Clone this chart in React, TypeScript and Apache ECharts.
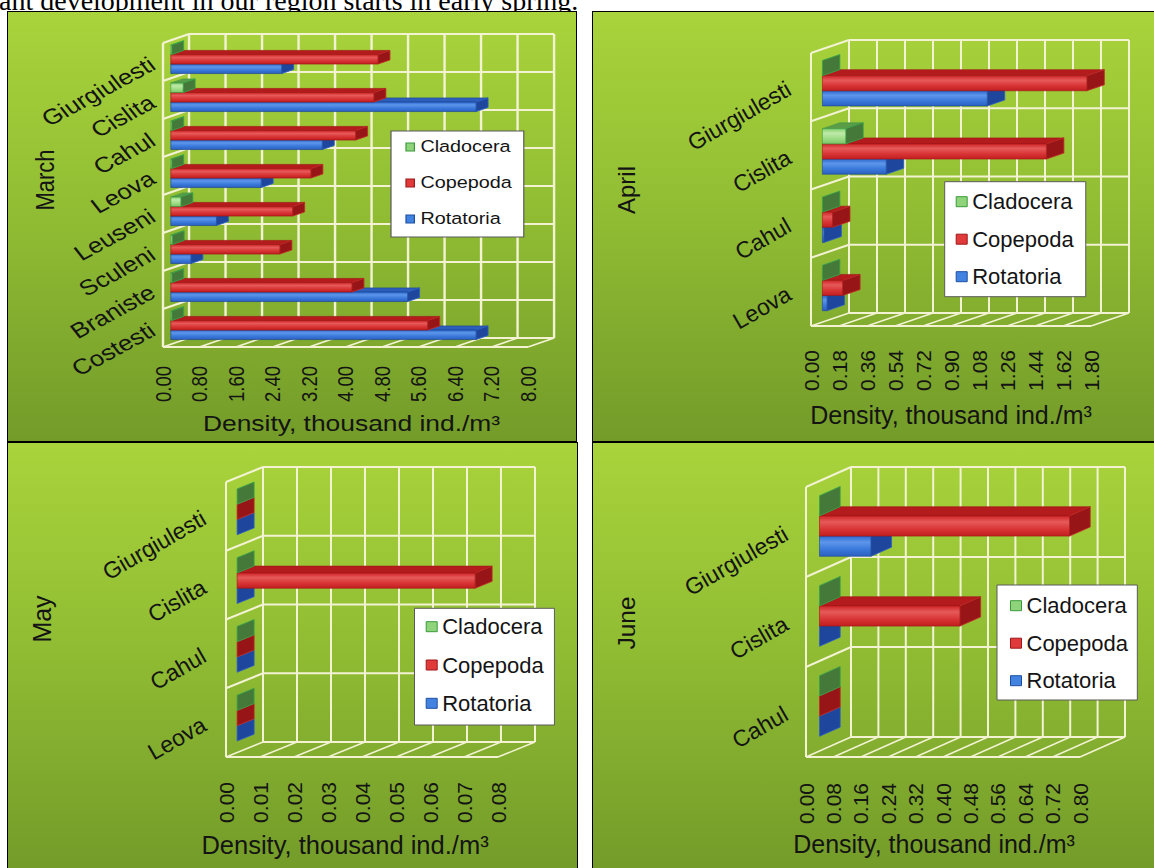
import React, { useEffect, useRef } from "react";
import * as echarts from "echarts";

// Sites run bottom-to-top, in the order of the category axis.
const marchSites = ["Costesti", "Braniste", "Sculeni", "Leuseni", "Leova", "Cahul", "Cislita", "Giurgiulesti"];
const marchRotatoria = [6.69, 5.19, 0.44, 1.0, 1.98, 3.32, 6.69, 2.43];
const marchCopepoda = [5.63, 3.97, 2.39, 2.67, 3.07, 4.05, 4.45, 4.54];
const marchCladocera = [0.02, 0.02, 0.03, 0.22, 0.02, 0.02, 0.27, 0.02];
const marchAxisMax = 8;
const marchAxisStep = 0.8;

const aprilSites = ["Leova", "Cahul", "Cislita", "Giurgiulesti"];
const aprilRotatoria = [0.03, 0.01, 0.41, 1.06];
const aprilCopepoda = [0.13, 0.065, 1.44, 1.7];
const aprilCladocera = [0, 0, 0.15, 0];
const aprilAxisMax = 1.8;
const aprilAxisStep = 0.18;

const maySites = ["Leova", "Cahul", "Cislita", "Giurgiulesti"];
const mayRotatoria = [0, 0, 0, 0];
const mayCopepoda = [0, 0, 0.07, 0];
const mayCladocera = [0, 0, 0, 0];
const mayAxisMax = 0.08;
const mayAxisStep = 0.01;

const juneSites = ["Cahul", "Cislita", "Giurgiulesti"];
const juneRotatoria = [0, 0, 0.15];
const juneCopepoda = [0, 0.41, 0.73];
const juneCladocera = [0, 0, 0];
const juneAxisMax = 0.8;
const juneAxisStep = 0.08;

const AXIS_TITLE = "Density, thousand ind./m³";
const FONT = '"Liberation Sans", Arial, sans-serif';
const INK = "#141414";
const FRAME_COLOR = "#f3f3d4";
const DEPTH_FRONT = 0.3; // bar front face, as a fraction of the wall depth
const DEPTH_BACK = 0.76; // bar back face

type Layout = {
  box: [number, number, number, number];
  stretch: number;
  grid: [number, number, number, number];
  depth: [number, number];
  gap: number; // empty space between clusters, in bar heights
  cat: { size: number; rotate: number; margin: number };
  tick: { size: number; margin: number };
  title: { size: number; gap: number; shift: number };
  month: { size: number; x: number; y: number };
  legend: {
    left: number;
    top: number;
    padding: number[];
    icon: [number, number];
    size: number;
    lineHeight: number;
    gap: number;
  };
};

const marchLayout: Layout = {
  box: [7, 11, 570, 431],
  stretch: 1.2,
  grid: [130, 32, 304.2, 304],
  depth: [21.7, -9],
  gap: 1.0,
  cat: { size: 21.5, rotate: 33, margin: 9 },
  tick: { size: 18.5, margin: 19 },
  title: { size: 22, gap: 65, shift: 5 },
  month: { size: 22, x: 31.7, y: 169 },
  legend: { left: 320, top: 120, padding: [6, 10, 8, 12], icon: [7, 8], size: 16.5, lineHeight: 20, gap: 16 },
};

const aprilLayout: Layout = {
  box: [592, 11, 566, 431],
  stretch: 1,
  grid: [219, 42, 280, 273],
  depth: [38, -13],
  gap: 1.5,
  cat: { size: 23, rotate: 30, margin: 22 },
  tick: { size: 21, margin: 24 },
  title: { size: 25, gap: 76, shift: 0 },
  month: { size: 24, x: 34, y: 179 },
  legend: { left: 352.7, top: 170.7, padding: [7, 12, 7, 11], icon: [11, 10], size: 22, lineHeight: 26, gap: 11.5 },
};

const mayLayout: Layout = {
  box: [7, 442, 571, 430],
  stretch: 1,
  grid: [219, 40, 272, 275],
  depth: [37, -15],
  gap: 1.5,
  cat: { size: 23, rotate: 30, margin: 22 },
  tick: { size: 21, margin: 25 },
  title: { size: 25.5, gap: 75, shift: -17 },
  month: { size: 25, x: 35, y: 177 },
  legend: { left: 407.5, top: 166.3, padding: [5.4, 10.7, 8.7, 11.2], icon: [11, 10], size: 22, lineHeight: 26, gap: 12.3 },
};

const juneLayout: Layout = {
  box: [592, 442, 566, 430],
  stretch: 1,
  grid: [214, 45, 274, 270],
  depth: [45, -20],
  gap: 1.45,
  cat: { size: 23, rotate: 30, margin: 20 },
  tick: { size: 21, margin: 26 },
  title: { size: 25, gap: 67, shift: -9 },
  month: { size: 24.5, x: 34, y: 181 },
  legend: { left: 405, top: 143, padding: [7.7, 9.3, 6.3, 13], icon: [11, 10], size: 22, lineHeight: 26, gap: 11.5 },
};

type Panel = {
  month: string;
  sites: string[];
  rotatoria: number[];
  copepoda: number[];
  cladocera: number[];
  max: number;
  step: number;
  layout: Layout;
};

const panels: Panel[] = [
  { month: "March", sites: marchSites, rotatoria: marchRotatoria, copepoda: marchCopepoda, cladocera: marchCladocera, max: marchAxisMax, step: marchAxisStep, layout: marchLayout },
  { month: "April", sites: aprilSites, rotatoria: aprilRotatoria, copepoda: aprilCopepoda, cladocera: aprilCladocera, max: aprilAxisMax, step: aprilAxisStep, layout: aprilLayout },
  { month: "May", sites: maySites, rotatoria: mayRotatoria, copepoda: mayCopepoda, cladocera: mayCladocera, max: mayAxisMax, step: mayAxisStep, layout: mayLayout },
  { month: "June", sites: juneSites, rotatoria: juneRotatoria, copepoda: juneCopepoda, cladocera: juneCladocera, max: juneAxisMax, step: juneAxisStep, layout: juneLayout },
];

type BarStyle = {
  slot: number;
  front: string[];
  top: string;
  side: string;
  stroke: string;
  edge: string;
  legendFill: string;
  legendBorder: string;
};

// slot 0 is the uppermost bar of each cluster
const STYLES: Record<string, BarStyle> = {
  Cladocera: {
    slot: 0,
    front: ["#86cf70", "#bfeaa8", "#9ddc86", "#7cc566"],
    top: "#5a9c48",
    side: "#45793a",
    stroke: "#3b9a45",
    edge: "#35a449",
    legendFill: "#8fd47a",
    legendBorder: "#3a9a3a",
  },
  Copepoda: {
    slot: 1,
    front: ["#cf2426", "#e65a5a", "#d93536", "#c21d1f"],
    top: "#b41b1d",
    side: "#971517",
    stroke: "#a01517",
    edge: "#c42a2a",
    legendFill: "#e03a3a",
    legendBorder: "#a01818",
  },
  Rotatoria: {
    slot: 2,
    front: ["#2d69d0", "#5d96ea", "#3a79db", "#2a60c0"],
    top: "#2c5fbc",
    side: "#1d469c",
    stroke: "#1c4796",
    edge: "#2e62c8",
    legendFill: "#4283e2",
    legendBorder: "#1d4fa0",
  },
};

function makeOption(p: Panel): any {
  const L = p.layout;
  const n = p.sites.length;
  const count = Math.round(p.max / p.step);
  const ticks: number[] = [];
  for (let i = 0; i <= count; i++) ticks.push(+(i * p.step).toFixed(4));
  const [dx, dy] = L.depth;

  // Floor, left wall and back wall of the 3D box, with their grid lines
  const frameSeries = {
    type: "custom",
    coordinateSystem: "cartesian2d",
    silent: true,
    clip: false,
    z: 1,
    encode: { x: 0, y: 1 },
    data: [[0, 0]],
    renderItem: (_params: any, api: any) => {
      const band = api.size([0, 1])[1];
      const yBottom = api.coord([0, 0])[1] + band / 2;
      const yTop = api.coord([0, n - 1])[1] - band / 2;
      const xs = ticks.map((t) => api.coord([t, 0])[0]);
      const xL = xs[0];
      const xR = xs[xs.length - 1];
      const lines: any[] = [];
      const seg = (x1: number, y1: number, x2: number, y2: number, w: number) =>
        lines.push({ type: "line", shape: { x1, y1, x2, y2 }, style: { stroke: FRAME_COLOR, lineWidth: w } });
      xs.forEach((x) => {
        seg(x + dx, yTop + dy, x + dx, yBottom + dy, 2);
        seg(x, yBottom, x + dx, yBottom + dy, 1.5);
      });
      seg(xL + dx, yTop + dy, xR + dx, yTop + dy, 2);
      seg(xL + dx, yBottom + dy, xR + dx, yBottom + dy, 2);
      seg(xL, yBottom, xR, yBottom, 2);
      seg(xL, yTop, xL, yBottom, 2);
      seg(xL, yTop, xL + dx, yTop + dy, 2);
      for (let k = 1; k < n; k++) {
        const y = (api.coord([0, k - 1])[1] + api.coord([0, k])[1]) / 2;
        seg(xL + dx, y + dy, xR + dx, y + dy, 2);
        seg(xL, y, xL + dx, y + dy, 2);
      }
      return { type: "group", children: lines };
    },
  };

  const barSeries = (name: string, values: number[]) => {
    const st = STYLES[name];
    const gradient = new echarts.graphic.LinearGradient(0, 0, 0, 1, [
      { offset: 0, color: st.front[0] },
      { offset: 0.3, color: st.front[1] },
      { offset: 0.65, color: st.front[2] },
      { offset: 1, color: st.front[3] },
    ]);
    return {
      type: "custom",
      name,
      coordinateSystem: "cartesian2d",
      silent: true,
      clip: false,
      z: 2,
      encode: { x: 0, y: 1 },
      itemStyle: { color: st.legendFill },
      data: values.map((v, i) => [v, i]),
      renderItem: (_params: any, api: any) => {
        const v = api.value(0);
        const ci = api.value(1);
        const p0 = api.coord([0, ci]);
        const p1 = api.coord([v, ci]);
        const band = api.size([0, 1])[1];
        const h = band / (3 + L.gap);
        const fx = DEPTH_FRONT * dx;
        const fy = DEPTH_FRONT * dy;
        const bx = (DEPTH_BACK - DEPTH_FRONT) * dx;
        const by = (DEPTH_BACK - DEPTH_FRONT) * dy;
        const yA = p0[1] - 1.5 * h + st.slot * h + fy;
        const yB = yA + h;
        const xA = p0[0] + fx;
        const xB = p1[0] + fx;
        const len = xB - xA;
        const children: any[] = [];
        if (len > 0.5) {
          children.push({
            type: "polygon",
            shape: { points: [[xA, yA], [xB, yA], [xB + bx, yA + by], [xA + bx, yA + by]] },
            style: { fill: st.top, stroke: st.stroke, lineWidth: 0.6 },
          });
        }
        children.push({
          type: "polygon",
          shape: { points: [[xB, yA], [xB + bx, yA + by], [xB + bx, yB + by], [xB, yB]] },
          style: { fill: st.side, stroke: st.edge, lineWidth: 0.8 },
        });
        if (len > 0.5) {
          children.push({
            type: "rect",
            shape: { x: xA, y: yA, width: len, height: h },
            style: { fill: gradient, stroke: st.stroke, lineWidth: 0.6 },
          });
        }
        return { type: "group", children };
      },
    };
  };

  const [gl, gt, gw, gh] = L.grid;
  const shift = L.title.shift;
  const titlePadding = shift >= 0 ? [0, 0, 0, 2 * shift] : [0, -2 * shift, 0, 0];
  const legendNames = ["Cladocera", "Copepoda", "Rotatoria"];

  return {
    animation: false,
    backgroundColor: {
      type: "linear",
      x: 0,
      y: 0,
      x2: 0,
      y2: 1,
      colorStops: [
        { offset: 0, color: "#a9d43b" },
        { offset: 0.5, color: "#8fbb33" },
        { offset: 1, color: "#739b29" },
      ],
    },
    textStyle: { fontFamily: FONT },
    grid: { left: gl, top: gt, width: gw, height: gh, containLabel: false, outerBoundsMode: "none" },
    xAxis: {
      type: "value",
      min: 0,
      max: p.max,
      interval: p.step,
      axisLine: { show: false },
      axisTick: { show: false },
      splitLine: { show: false },
      axisLabel: {
        rotate: 90,
        margin: L.tick.margin,
        fontSize: L.tick.size,
        fontFamily: FONT,
        color: INK,
        showMinLabel: true,
        showMaxLabel: true,
        formatter: (v: number) => v.toFixed(2),
      },
      name: AXIS_TITLE,
      nameLocation: "middle",
      nameGap: L.title.gap,
      nameTextStyle: { fontSize: L.title.size, fontFamily: FONT, color: INK, padding: titlePadding },
    },
    yAxis: {
      type: "category",
      data: p.sites,
      axisLine: { show: false },
      axisTick: { show: false },
      splitLine: { show: false },
      axisLabel: {
        interval: 0,
        rotate: L.cat.rotate,
        margin: L.cat.margin,
        fontSize: L.cat.size,
        fontFamily: FONT,
        color: INK,
      },
    },
    legend: {
      orient: "vertical",
      left: L.legend.left,
      top: L.legend.top,
      padding: L.legend.padding,
      itemWidth: L.legend.icon[0],
      itemHeight: L.legend.icon[1],
      itemGap: L.legend.gap,
      icon: "rect",
      selectedMode: false,
      backgroundColor: "#ffffff",
      borderColor: "#5a5a5a",
      borderWidth: 1,
      borderRadius: 0,
      textStyle: { fontSize: L.legend.size, lineHeight: L.legend.lineHeight, fontFamily: FONT, color: INK },
      data: legendNames.map((name) => ({
        name,
        itemStyle: { color: STYLES[name].legendFill, borderColor: STYLES[name].legendBorder, borderWidth: 1 },
      })),
    },
    graphic: [
      {
        type: "text",
        x: L.month.x,
        y: L.month.y,
        rotation: Math.PI / 2,
        silent: true,
        style: {
          text: p.month,
          fontSize: L.month.size,
          fontFamily: FONT,
          fill: INK,
          align: "center",
          verticalAlign: "middle",
          textAlign: "center",
          textVerticalAlign: "middle",
        },
      },
    ],
    series: [
      frameSeries,
      barSeries("Rotatoria", p.rotatoria),
      barSeries("Copepoda", p.copepoda),
      barSeries("Cladocera", p.cladocera),
    ],
  };
}

function ChartPanel({ panel }: { panel: Panel }) {
  const ref = useRef<HTMLDivElement>(null);
  const L = panel.layout;
  const [bx, by, bw, bh] = L.box;
  useEffect(() => {
    if (!ref.current) return;
    const chart = echarts.init(ref.current, null, { renderer: "svg" });
    chart.setOption(makeOption(panel));
    return () => chart.dispose();
  }, [panel]);
  return (
    <div style={{ position: "absolute", left: bx, top: by, width: bw, height: bh, overflow: "hidden" }}>
      <div
        ref={ref}
        style={{ width: bw / L.stretch, height: bh, transform: `scaleX(${L.stretch})`, transformOrigin: "0 0" }}
      />
      <div
        style={{
          position: "absolute",
          left: 0,
          top: 0,
          right: 0,
          bottom: 0,
          border: "1px solid #000",
          boxSizing: "border-box",
          pointerEvents: "none",
        }}
      />
    </div>
  );
}

export default function App() {
  return (
    <div
      style={{
        position: "absolute",
        left: 0,
        top: 0,
        width: 1154,
        height: 868,
        overflow: "hidden",
        background: "#fff",
      }}
    >
      <div
        style={{
          position: "absolute",
          left: -1,
          top: -13,
          font: '28px "Liberation Serif", "Times New Roman", serif',
          lineHeight: "28px",
          whiteSpace: "nowrap",
          color: "#000",
        }}
      >
        ant development in our region starts in early spring.
      </div>
      {panels.map((p) => (
        <ChartPanel key={p.month} panel={p} />
      ))}
    </div>
  );
}
